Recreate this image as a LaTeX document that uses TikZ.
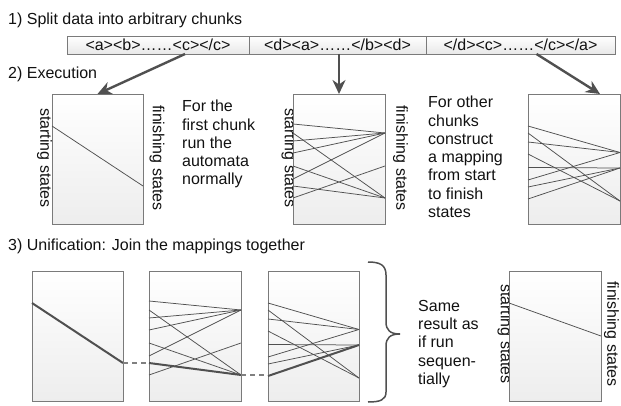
\documentclass[tikz,border=0pt]{standalone}
\usepackage{fontspec}
\setmainfont{Liberation Sans}
\usetikzlibrary{arrows.meta}
\definecolor{lineg}{HTML}{505050}
\definecolor{boxg}{HTML}{7A7A7A}
\definecolor{txt}{HTML}{111111}
\newcommand{\mapdraw}[3][]{%
  \foreach \l/\r in {#3} \draw[mapline,#1] ([yshift=-\l pt]#2.north west) -- ([yshift=-\r pt]#2.north east);}
\begin{document}
\begin{tikzpicture}[x=1pt,y=-1pt,
  every node/.style={font=\fontsize{16}{18.3}\selectfont, text=txt},
  statebox/.style={draw=boxg, line width=0.9pt, rectangle, inner sep=0pt, outer sep=0pt,
    minimum width=91pt, minimum height=130pt, anchor=north west, top color=white, bottom color=gray!14},
  chunk/.style={draw=boxg, line width=0.9pt, rectangle, inner sep=0pt, outer sep=0pt,
    minimum height=18pt, anchor=north west, top color=white, bottom color=gray!18},
  mapline/.style={draw=lineg, line width=0.75pt},
  thickmap/.style={line width=2pt},
  bigarrow/.style={draw=lineg, line width=2.4pt, -{Stealth[length=14pt,width=13pt,inset=4.5pt]}},
  dashconn/.style={draw=gray, line width=1.3pt, dash pattern=on 5pt off 4pt},
  vlabel/.style={rotate=-90, inner sep=0pt},
  para/.style={align=left, anchor=north west, inner sep=0pt},
  title/.style={anchor=west, inner sep=0pt}]
\useasboundingbox (0,0) rectangle (621,406);

% titles
\node[title] (t1) at (8,20) {1) Split data into arbitrary chunks};
\node[title] (t2) at (8,74) {2) Execution};
\node[title] (t3) at (8,246) {3) Unification: Join the mappings together};

% chunk bar
\node[chunk, minimum width=182pt] (c1) at (67,36) {<a><b>……<c></c>};
\node[chunk, minimum width=177pt] (c2) at (249,36) {<d><a>……</b><d>};
\node[chunk, minimum width=189pt] (c3) at (426,36) {</d><c>……</c></a>};

% rotated labels (drawn before boxes so boxes cover them)
\node[vlabel] (s1) at (44.5,158) {starting states};
\node[vlabel] (f1) at (157,158) {finishing states};
\node[vlabel] (s2) at (289,158) {starting states};
\node[vlabel] (f2) at (400.5,158) {finishing states};
\node[vlabel] (s4) at (505,334) {starting states};
\node[vlabel] (f4) at (611.5,334) {finishing states};

% execution boxes
\node[statebox] (e1) at (52,94) {};
\node[statebox, minimum width=92pt] (e2) at (293,94) {};
\node[statebox, minimum width=92pt] (e3) at (528,94) {};

\mapdraw{e1}{32/92}
\mapdraw{e2}{30/39, 39/104, 47/39, 59/39, 72/104, 85/39, 92/104, 104/72}
\mapdraw{e3}{32/58.5, 39/107, 48/58.5, 60/107, 73.5/74, 86/58.5, 93/74, 105/74}

% arrows
\draw[bigarrow] ([xshift=27pt]c1.south) -- (e1.north);
\draw[bigarrow] (e2.north |- c2.south) -- (e2.north);
\draw[bigarrow] ([xshift=16pt]c3.south) -- ([xshift=-20pt]e3.north east);

% paragraphs
\node[para] (p1) at (182,100) {For the\\first chunk\\run the\\automata\\normally};
\node[para] (p2) at (428,96) {For other\\chunks\\construct\\a mapping\\from start\\to finish\\states};

% unification boxes
\node[statebox] (u1) at (32,271) {};
\node[statebox, minimum width=92pt] (u2) at (149,271) {};
\node[statebox] (u3) at (268,271) {};
\node[statebox, minimum width=92pt] (u4) at (509,271) {};

\mapdraw[thickmap]{u1}{32/92}
\mapdraw{u2}{30/39, 39/104, 47/39, 59/39, 72/104, 85/39, 104/72}
\mapdraw[thickmap]{u2}{92/104}
\mapdraw{u3}{32/58.5, 39/107, 48/58.5, 60/107, 73.5/74, 86/58.5, 93/74}
\mapdraw[thickmap]{u3}{105/74}
\mapdraw{u4}{32/65}

\draw[dashconn] ([yshift=-92pt]u1.north east) -- ([yshift=-92pt]u2.north west);
\draw[dashconn] ([yshift=-104pt]u2.north east) -- ([yshift=-104pt]u3.north west);

% brace
\draw[draw=lineg, line width=1.5pt] (368,262) .. controls (380,262) and (386,265) .. (386,275)
  -- (386,322) .. controls (386,330) and (390,334) .. (400,334)
  .. controls (390,334) and (386,338) .. (386,346)
  -- (386,392) .. controls (386,400) and (380,402) .. (368,402);

\node[para] (p3) at (418,300) {Same\\result as\\if run\\sequen-\\tially};
\end{tikzpicture}
\end{document}
